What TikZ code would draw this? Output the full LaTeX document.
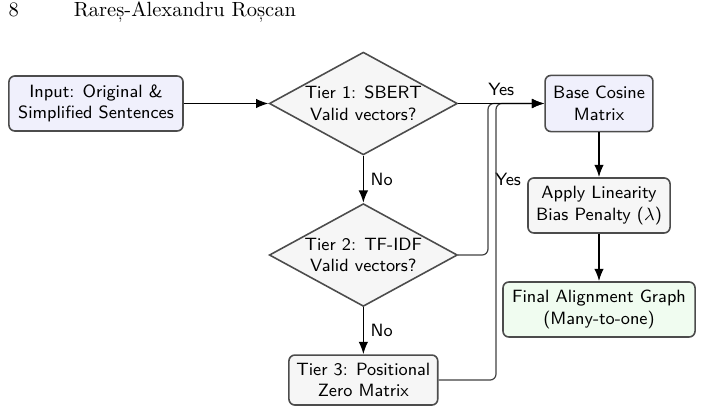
\documentclass[tikz,border=0pt]{standalone}
\usepackage{tikz}
\usetikzlibrary{shapes.geometric, arrows.meta}
\definecolor{boxblue}{RGB}{240,240,252}
\definecolor{boxgreen}{RGB}{240,252,240}
\definecolor{boxgray}{RGB}{246,246,246}

\begin{document}
\begin{tikzpicture}[line width=0.8pt,
    box/.style={draw=black!70, rounded corners=3pt, align=center, font=\sffamily\small, inner sep=2pt},
    test/.style={diamond, aspect=1.83, draw=black!70, fill=boxgray, align=center, font=\sffamily\small,
        inner sep=0pt, minimum width=3.35cm, minimum height=1.83cm},
    flow/.style={-{Latex[length=2.2mm, width=1.7mm]}, color=black},
    lane/.style={-{Latex[length=2.2mm, width=1.7mm]}, color=black!75, line width=0.6pt, rounded corners=3pt},
    lbl/.style={font=\sffamily\small, text=black}]
    \useasboundingbox (0,0) rectangle (12.5,7.372);

    % Kopfzeile.
    \node[anchor=base west, font=\fontsize{10.4}{12}\selectfont, inner sep=0pt] (page) at (0.14,7.07) {8};
    \node[anchor=base west, font=\fontsize{10.4}{12}\selectfont, inner sep=0pt] (author) at (1.30,7.07) {Rareș-Alexandru Roșcan};

    % Knoten.
    \node[box, fill=boxblue, minimum width=3.10cm, minimum height=0.98cm] (input) at (1.709,5.529) {Input: Original \&\\Simplified Sentences};
    \node[test] (tier1) at (6.47,5.529) {Tier 1: SBERT\\Valid vectors?};
    \node[test] (tier2) at (6.47,2.831) {Tier 2: TF-IDF\\Valid vectors?};
    \node[box, fill=boxgray, minimum width=2.65cm, minimum height=0.89cm] (tier3) at (6.47,0.605) {Tier 3: Positional\\Zero Matrix};

    \node[box, fill=boxblue, minimum width=1.92cm, minimum height=1.0cm] (base) at (10.666,5.529) {Base Cosine\\Matrix};
    \node[box, fill=boxgray, minimum width=2.53cm, minimum height=0.98cm] (penalty) at (10.666,3.713) {Apply Linearity\\Bias Penalty ($\lambda$)};
    \node[box, fill=boxgreen, minimum width=3.42cm, minimum height=0.98cm] (final) at (10.666,1.861) {Final Alignment Graph\\(Many-to-one)};

    \coordinate (lane2) at (8.689,0);
    \coordinate (lane3) at (8.832,0);

    % Pfeile.
    \draw[lane] (tier2.east) -| node[lbl, pos=.75, right] {Yes} (lane2 |- base.west) -- (base.west);
    \draw[lane] (tier3.east) -| (lane3 |- base.west) -- (base.west);

    \draw[flow] (input) -- (tier1);
    \draw[flow] (tier1) -- node[lbl, above] {Yes} (base);
    \draw[flow] (tier1) -- node[lbl, right] {No} (tier2);
    \draw[flow] (tier2) -- node[lbl, right] {No} (tier3);
    \draw[flow] (base) -- (penalty);
    \draw[flow] (penalty) -- (final);
\end{tikzpicture}
\end{document}
